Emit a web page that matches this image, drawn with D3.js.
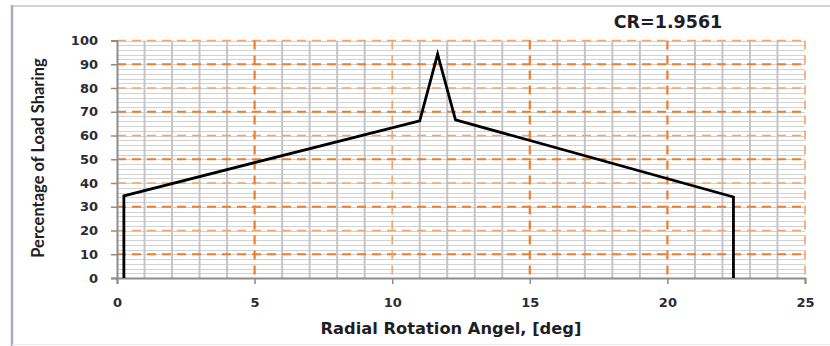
<!DOCTYPE html>
<html>
<head>
<meta charset="utf-8">
<script src="https://cdn.jsdelivr.net/npm/d3@7"></script>
<style>
  body { margin: 0; background: #fff; }
  svg { display: block; font-family: "DejaVu Sans", Verdana, sans-serif; }
</style>
</head>
<body>
<svg id="chart" width="830" height="346"></svg>
<script>
// data
var angle = [0.25, 0.25, 11.0, 11.65, 12.3, 22.4, 22.4];
var load  = [0, 34.6, 66.2, 94.3, 66.6, 34.1, 0];
var xTicks = [0, 5, 10, 15, 20, 25];
var yTicks = [0, 10, 20, 30, 40, 50, 60, 70, 80, 90, 100];
var crLabel = "CR=1.9561";

var svg = d3.select("#chart");

// frame of the chart area
svg.append("line").attr("x1", 12).attr("x2", 830).attr("y1", 6).attr("y2", 6)
  .attr("stroke", "#d4d4d4").attr("stroke-width", 2);
svg.append("line").attr("x1", 12).attr("x2", 12).attr("y1", 5).attr("y2", 346)
  .attr("stroke", "#a9aac4").attr("stroke-width", 2.5);
svg.append("line").attr("x1", 12).attr("x2", 830).attr("y1", 344.5).attr("y2", 344.5)
  .attr("stroke", "#ececec").attr("stroke-width", 1);

var x = d3.scaleLinear().domain([0, 25]).range([117, 805]);
var y = d3.scaleLinear().domain([0, 100]).range([278, 40.5]);

// minor grid, gray
var g = svg.append("g");
g.selectAll(".hminor").data(d3.range(0, 101, 2))
  .enter().append("line")
  .attr("x1", x(0)).attr("x2", x(25))
  .attr("y1", function(d){ return Math.round(y(d)) + 0.5; })
  .attr("y2", function(d){ return Math.round(y(d)) + 0.5; })
  .attr("stroke", "#d2d2d2").attr("stroke-width", 1);
g.selectAll(".vminor").data(d3.range(1, 25).filter(function(d){ return d % 5 != 0; }))
  .enter().append("line")
  .attr("x1", function(d){ return x(d); }).attr("x2", function(d){ return x(d); })
  .attr("y1", y(100)).attr("y2", y(0))
  .attr("stroke", "#c4c4c4").attr("stroke-width", 2);

// major grid, orange dashed
var thickY = function(d){ return (d / 10) % 2 == 1; };
g.selectAll(".hmajor").data(yTicks.filter(function(d){ return d > 0; }))
  .enter().append("line")
  .attr("x1", x(0)).attr("x2", x(25))
  .attr("y1", function(d){ return y(d); }).attr("y2", function(d){ return y(d); })
  .attr("stroke", function(d){ return thickY(d) ? "#ee7d2c" : "#f3a468"; })
  .attr("stroke-width", function(d){ return thickY(d) ? 2.2 : 1.6; })
  .attr("stroke-dasharray", "9,6");
var thickX = function(d){ return d == 5 || d == 15 || d == 20; };
g.selectAll(".vmajor").data(xTicks.filter(function(d){ return d > 0; }))
  .enter().append("line")
  .attr("x1", function(d){ return x(d); }).attr("x2", function(d){ return x(d); })
  .attr("y1", y(100)).attr("y2", y(0))
  .attr("stroke", function(d){ return thickX(d) ? "#ee7d2c" : "#f3a468"; })
  .attr("stroke-width", function(d){ return thickX(d) ? 2.2 : 1.6; })
  .attr("stroke-dasharray", "9,6");

// axes
var yAxis = d3.axisLeft(y).tickValues(yTicks).tickSize(6).tickPadding(13);
var ya = svg.append("g").attr("transform", "translate(" + x(0) + ",0)").call(yAxis);
var xAxis = d3.axisBottom(x).tickValues(xTicks).tickSize(6).tickPadding(14);
var xa = svg.append("g").attr("transform", "translate(0," + y(0) + ")").call(xAxis);
[ya, xa].forEach(function(a){
  a.select(".domain").attr("stroke", "#8c8c8c").attr("stroke-width", 2);
  a.selectAll(".tick line").attr("stroke", "#8c8c8c").attr("stroke-width", 1.5);
  a.selectAll(".tick text").attr("fill", "#2b2b35").style("font-size", "13px")
    .style("font-family", "'DejaVu Sans', sans-serif").style("font-weight", "bold");
});

// the load curve
var line = d3.line()
  .x(function(d){ return x(d[0]); })
  .y(function(d){ return y(d[1]); });
svg.append("path")
  .datum(d3.zip(angle, load))
  .attr("d", line)
  .attr("fill", "none")
  .attr("stroke", "#000")
  .attr("stroke-width", 2.8)
  .attr("stroke-linejoin", "miter");

// titles
svg.append("text").attr("x", 451).attr("y", 334)
  .attr("text-anchor", "middle").style("font-size", "16.3px").style("font-weight", "bold")
  .attr("fill", "#1e1e24").text("Radial Rotation Angel, [deg]");
svg.append("text").attr("transform", "translate(44,158) rotate(-90)")
  .attr("text-anchor", "middle").style("font-size", "16.5px").style("font-weight", "bold")
  .style("font-family", "Lato, sans-serif")
  .attr("fill", "#1e1e24").text("Percentage of Load Sharing");
svg.append("text").attr("x", 668).attr("y", 28)
  .attr("text-anchor", "middle").style("font-size", "17.5px").style("font-weight", "bold")
  .attr("fill", "#1e1e24").text(crLabel);
</script>
</body>
</html>
